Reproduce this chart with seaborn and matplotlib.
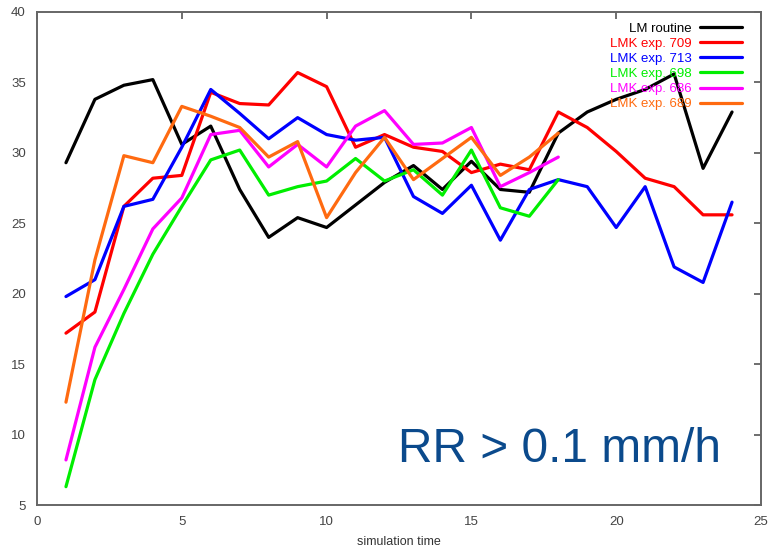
import numpy as np
import pandas as pd
import matplotlib
matplotlib.use("Agg")
import matplotlib.pyplot as plt
import seaborn as sns

# simulation time steps
time_full = list(range(1, 25))
time_short = list(range(1, 19))

lm_routine = [29.3, 33.8, 34.8, 35.2, 30.6, 31.9, 27.4, 24.0, 25.4, 24.7, 26.3, 27.9,
              29.1, 27.4, 29.4, 27.4, 27.2, 31.4, 32.9, 33.8, 34.5, 35.6, 28.9, 32.9]
lmk_709 = [17.2, 18.7, 26.2, 28.2, 28.4, 34.3, 33.5, 33.4, 35.7, 34.7, 30.4, 31.3,
           30.4, 30.1, 28.6, 29.2, 28.8, 32.9, 31.8, 30.1, 28.2, 27.6, 25.6, 25.6]
lmk_713 = [19.8, 21.0, 26.2, 26.7, 30.4, 34.5, 32.8, 31.0, 32.5, 31.3, 30.9, 31.1,
           26.9, 25.7, 27.7, 23.8, 27.4, 28.1, 27.6, 24.7, 27.6, 21.9, 20.8, 26.5]
lmk_698 = [6.3, 13.9, 18.6, 22.8, 26.2, 29.5, 30.2, 27.0, 27.6, 28.0, 29.6, 28.0,
           28.8, 27.0, 30.2, 26.1, 25.5, 28.1]
lmk_686 = [8.2, 16.2, 20.3, 24.6, 26.8, 31.3, 31.6, 29.0, 30.6, 29.0, 31.9, 33.0,
           30.6, 30.7, 31.8, 27.6, 28.6, 29.7]
lmk_689 = [12.3, 22.4, 29.8, 29.3, 33.3, 32.6, 31.8, 29.7, 30.8, 25.4, 28.6, 31.1,
           28.1, 29.6, 31.1, 28.4, 29.7, 31.4]

labels = ["LM routine", "LMK exp. 709", "LMK exp. 713",
          "LMK exp. 698", "LMK exp. 686", "LMK exp. 689"]
colors = ["#000000", "#ff0000", "#0000ff", "#00ee00", "#ff00ff", "#ff6a10"]
series = [(time_full, lm_routine), (time_full, lmk_709), (time_full, lmk_713),
          (time_short, lmk_698), (time_short, lmk_686), (time_short, lmk_689)]

frames = []
for name, (t, v) in zip(labels, series):
    frames.append(pd.DataFrame({"time": t, "value": v, "run": name}))
df = pd.concat(frames, ignore_index=True)

sns.set_theme(style="white")
plt.rcParams["font.family"] = ["Liberation Sans", "DejaVu Sans"]

fig = plt.figure(figsize=(7.69, 5.55), dpi=100)
ax = fig.add_axes([37 / 769, 1 - 505 / 555, (761 - 37) / 769, (505 - 12) / 555])

sns.lineplot(data=df, x="time", y="value", hue="run", hue_order=labels,
             palette=dict(zip(labels, colors)), linewidth=2.3, ax=ax,
             legend=True)

ax.set_xlim(0, 25)
ax.set_ylim(5, 40)
ax.set_xticks([0, 5, 10, 15, 20, 25])
ax.set_yticks([5, 10, 15, 20, 25, 30, 35, 40])
ax.tick_params(direction="in", length=5, width=1.2, color="#555555",
               top=True, right=True, labelsize=9.5, labelcolor="#444444", pad=8)
for s in ax.spines.values():
    s.set_color("#666666")
    s.set_linewidth(1.4)
ax.set_xlabel("simulation time", fontsize=9, color="#333333", labelpad=6)
ax.set_ylabel("")

leg = ax.legend(loc="upper right", bbox_to_anchor=(0.985, 0.995), frameon=False,
                markerfirst=False, fontsize=9.5, labelcolor="linecolor",
                handlelength=3.2, handletextpad=0.6, labelspacing=0.22,
                borderaxespad=0.2)

ax.text(0.498, 0.087, "RR > 0.1 mm/h", transform=ax.transAxes,
        fontsize=34.5, color="#0b4a8c", ha="left", va="baseline")

fig.savefig("out.png", dpi=100)
